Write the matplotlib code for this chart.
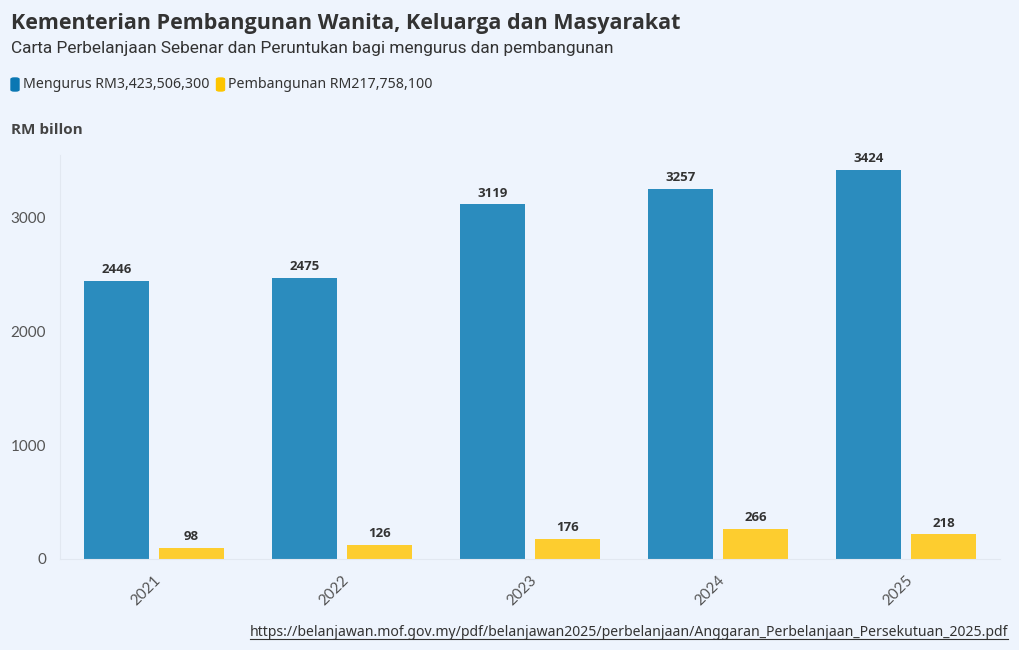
import numpy as np
import matplotlib
matplotlib.use('Agg')
from matplotlib import pyplot as plt
from matplotlib.patches import FancyBboxPatch

years = ['2021', '2022', '2023', '2024', '2025']
mengurus = [2446, 2475, 3119, 3257, 3424]
pembangunan = [98, 126, 176, 266, 218]
legend_labels = ['Mengurus RM3,423,506,300', 'Pembangunan RM217,758,100']

bg = '#EEF4FD'
blue = '#2B8CBE'
yellow = '#FDCD2F'
dark = '#333333'

fig = plt.figure(figsize=(10.2, 6.5), dpi=100, facecolor=bg)
ax = fig.add_axes([60/1020, 1 - 559/650, 940/1020, (559-155)/650], facecolor=bg)

x = np.arange(len(years))
w = 0.345
b1 = ax.bar(x - 0.2, mengurus, w, color=blue)
b2 = ax.bar(x + 0.2, pembangunan, w, color=yellow)

for bars in (b1, b2):
    for r in bars:
        ax.text(r.get_x() + r.get_width()/2, r.get_height() + 40, f'{int(r.get_height())}',
                ha='center', va='bottom', fontsize=9.5, fontweight='bold', color=dark,
                family='Open Sans')

ax.set_xlim(-0.5, 4.5)
ax.set_ylim(0, 3553)
ax.set_yticks([0, 1000, 2000, 3000])
ax.set_xticks(x)
ax.set_xticklabels(years, rotation=45, ha='right', rotation_mode='anchor')
ax.tick_params(length=0, labelsize=11, labelcolor='#555555', pad=10)
for lab in ax.get_xticklabels() + ax.get_yticklabels():
    lab.set_family('Lato')
for s in ['top', 'right']:
    ax.spines[s].set_visible(False)
for s in ['left', 'bottom']:
    ax.spines[s].set_color('#E2E8F1')

fig.text(11/1020, 1 - 24/650, 'Kementerian Pembangunan Wanita, Keluarga dan Masyarakat',
         fontsize=15.5, fontweight='bold', color=dark, va='center', family='Open Sans')
fig.text(11/1020, 1 - 48/650, 'Carta Perbelanjaan Sebenar dan Peruntukan bagi mengurus dan pembangunan',
         fontsize=12.4, color=dark, va='center', family='Roboto')

# legend
xs = 11
for lab, col in zip(legend_labels, ['#0A77B3', '#FDC500']):
    p = FancyBboxPatch((xs/1020, 1 - 91/650), 8/1020, 13/650,
                       boxstyle='round,pad=0,rounding_size=0.003', transform=fig.transFigure,
                       color=col, mutation_aspect=650/1020)
    fig.patches.append(p)
    t = fig.text((xs + 12)/1020, 1 - 85/650, lab, fontsize=10.2, color=dark, va='center',
                 family='Noto Sans')
    fig.canvas.draw()
    bb = t.get_window_extent()
    xs = bb.x1 + 7

fig.text(11/1020, 1 - 130/650, 'RM billon', fontsize=11, fontweight='bold', color='#444444',
         va='center', family='Open Sans')

src = fig.text(1008/1020, 1 - 632/650,
               'https://belanjawan.mof.gov.my/pdf/belanjawan2025/perbelanjaan/Anggaran_Perbelanjaan_Persekutuan_2025.pdf',
               fontsize=10.1, color=dark, ha='right', va='center', family='Noto Sans')
fig.canvas.draw()
bb = src.get_window_extent()
fig.add_artist(plt.Line2D([bb.x0/1020, bb.x1/1020], [(bb.y0 + 1)/650] * 2, color=dark, lw=0.8,
                          transform=fig.transFigure))

fig.savefig('out.png', dpi=100, facecolor=bg)
